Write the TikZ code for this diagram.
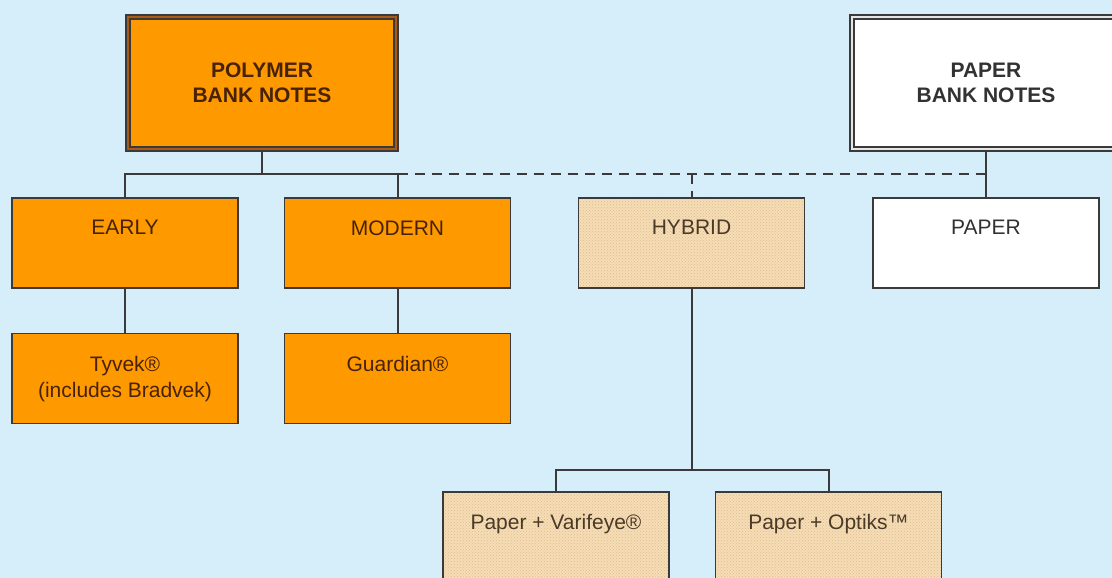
\documentclass[tikz,border=0pt]{standalone}
\usepackage{fontspec}
\setmainfont{Liberation Sans}
\usepackage{xcolor}
\usetikzlibrary{patterns}

\definecolor{sky}{RGB}{213,238,250}
\definecolor{amber}{RGB}{255,153,0}
\definecolor{amberdark}{RGB}{170,90,20}
\definecolor{rim}{RGB}{58,58,58}
\definecolor{tan}{RGB}{246,221,182}
\definecolor{tandots}{RGB}{222,188,140}
\definecolor{inkbrown}{RGB}{72,34,6}
\definecolor{inkgrey}{RGB}{50,50,50}
\definecolor{inktan}{RGB}{74,58,40}

\tikzset{
	every node/.style={font=\fontsize{21}{26}\selectfont},
	box/.style={draw=rim, line width=1.6pt, minimum width=226pt, minimum height=90pt, inner sep=0pt},
	polybox/.style={box, fill=amber},
	paperbox/.style={box, fill=white},
	hybridbox/.style={box, preaction={fill=tan}, pattern=crosshatch dots, pattern color=tandots},
	boxlabel/.style={anchor=north, yshift=-23pt, inner sep=0pt, align=center},
	headbox/.style={draw=rim, line width=1.4pt, double distance=2.6pt, minimum width=268pt, minimum height=132pt,
		align=center, font=\bfseries\fontsize{21}{25}\selectfont},
	link/.style={draw=rim, line width=2pt},
	dashlink/.style={link, dash pattern=on 10pt off 7pt},
}

\begin{document}
\begin{tikzpicture}[x=1pt, y=-1pt]
	\useasboundingbox (0,0) rectangle (1112,578);
	\clip (0,0) rectangle (1112,578);
	\fill[sky] (0,0) rectangle (1112,578);

	\coordinate (bus) at (0,174);
	\coordinate (split) at (0,470);

	% heads
	\node[headbox, fill=amber, double=amberdark, text=inkbrown] (polymer) at (262,83) {POLYMER\\BANK NOTES};
	\node[headbox, fill=white, double=black!10, text=inkgrey] (paperhead) at (986,83) {PAPER\\BANK NOTES};

	% second row
	\node[polybox, label={[boxlabel, text=inkbrown]north:EARLY}] (early) at (125,243) {};
	\node[polybox, label={[boxlabel, text=inkbrown]north:MODERN}] (modern) at (397.5,243) {};
	\node[hybridbox, label={[boxlabel, text=inktan]north:HYBRID}] (hybrid) at (691.5,243) {};
	\node[paperbox, label={[boxlabel, text=inkgrey]north:PAPER}] (paper) at (986,243) {};

	% third row
	\node[polybox, label={[boxlabel, text=inkbrown]north:Tyvek®\\(includes Bradvek)}] (tyvek) at (125,378.5) {};
	\node[polybox, label={[boxlabel, text=inkbrown]north:Guardian®}] (guardian) at (397.5,378.5) {};

	\node[hybridbox, label={[boxlabel, text=inktan]north:Paper + Varifeye®}] (varifeye) at (556,537) {};
	\node[hybridbox, label={[boxlabel, text=inktan]north:Paper + Optiks™}] (optiks) at (828.5,537) {};

	% connectors
	\draw[link] (polymer.south) -- (polymer.south |- bus);
	\draw[link] (early.north) |- (modern.north |- bus) -- (modern.north);
	\draw[dashlink] (modern.north |- bus) -- (paper.north |- bus);
	\draw[dashlink] (hybrid.north |- bus) -- (hybrid.north);
	\draw[link] (paperhead.south) -- (paper.north);

	\draw[link] (early.south) -- (tyvek.north);
	\draw[link] (modern.south) -- (guardian.north);

	\draw[link] (hybrid.south) -- (hybrid.south |- split);
	\draw[link] (varifeye.north) -- (varifeye.north |- split) -- (optiks.north |- split) -- (optiks.north);
\end{tikzpicture}
\end{document}
